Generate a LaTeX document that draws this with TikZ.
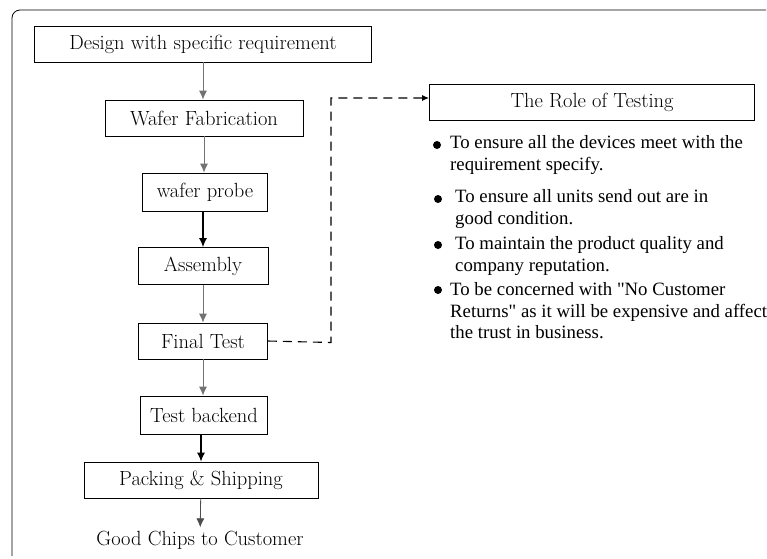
\documentclass[tikz,border=0pt]{standalone}
\usepackage{fontspec}
\newfontfamily\timesfont{Liberation Serif}
\usetikzlibrary{arrows.meta}
\begin{document}
\begin{tikzpicture}[x=1pt,y=-1pt,
    stage/.style={draw, thick, minimum height=36pt, inner sep=0pt, font=\fontsize{20.5}{22}\selectfont},
    flow/.style={-{Latex[length=9pt,width=8pt]}, thick, draw=black!55},
    bold/.style={-{Latex[length=9pt,width=8pt]}, very thick},
    item/.style={anchor=north west, inner sep=0pt, align=left, font=\timesfont\fontsize{18.8}{21.5}\selectfont}]
    \useasboundingbox (0,0) rectangle (767,558);
    \draw[thick, rounded corners=8pt] (766,10) -- (12,10) -- (12,556);  % frame
    \node[stage, minimum width=337pt] (design) at (203,44) {Design with specific requirement};
    \node[stage, minimum width=198pt] (fab) at (204,118) {Wafer Fabrication};
    \node[stage, minimum width=125pt, minimum height=38pt] (probe) at (205,192) {wafer probe};
    \node[stage, minimum width=130pt, minimum height=37pt] (assy) at (203,266) {Assembly};
    \node[stage, minimum width=129pt] (final) at (203,341) {Final Test};
    \node[stage, minimum width=127pt, minimum height=38pt] (backend) at (204,415) {Test backend};
    \node[stage, minimum width=234pt] (pack) at (201,480) {Packing \& Shipping};
    \node[font=\fontsize{20.5}{22}\selectfont] (good) at (200,540) {Good Chips to Customer};
    \draw[flow] (design) -- (design |- fab.north);
    \draw[flow] (fab) -- (fab |- probe.north);
    \draw[bold] (probe.south -| assy) -- (assy);
    \draw[flow] (assy) -- (assy |- final.north);
    \draw[flow] (final) -- (final |- backend.north);
    \draw[bold] (backend.south -| pack) -- (pack);
    \draw[flow, draw=black!70] (pack) -- (good);
    % role of testing
    \node[stage, minimum width=325pt] (role) at (592,102) {The Role of Testing};
    \draw[line width=1.1pt, dash pattern=on 9pt off 6pt, -{Latex[length=7pt,width=6pt]}]
        (final.east) -- (331,342.5) |- ([yshift=4pt]role.west);
    \fill (437,145) circle (4pt);
    \node[item] (r1) at (450,135.5) {To ensure all the devices meet with the\\requirement specify.};
    \fill (438,199) circle (4pt);
    \node[item] (r2) at (455,189.5) {To ensure all units send out are in\\good condition.};
    \fill (438,245) circle (4pt);
    \node[item] (r3) at (455,236.5) {To maintain the product quality and\\company reputation.};
    \fill (438,290) circle (4pt);
    \node[item] (r4) at (450,282.5) {To be concerned with "No Customer\\Returns" as it will be expensive and affect\\the trust in business.};
\end{tikzpicture}
\end{document}
